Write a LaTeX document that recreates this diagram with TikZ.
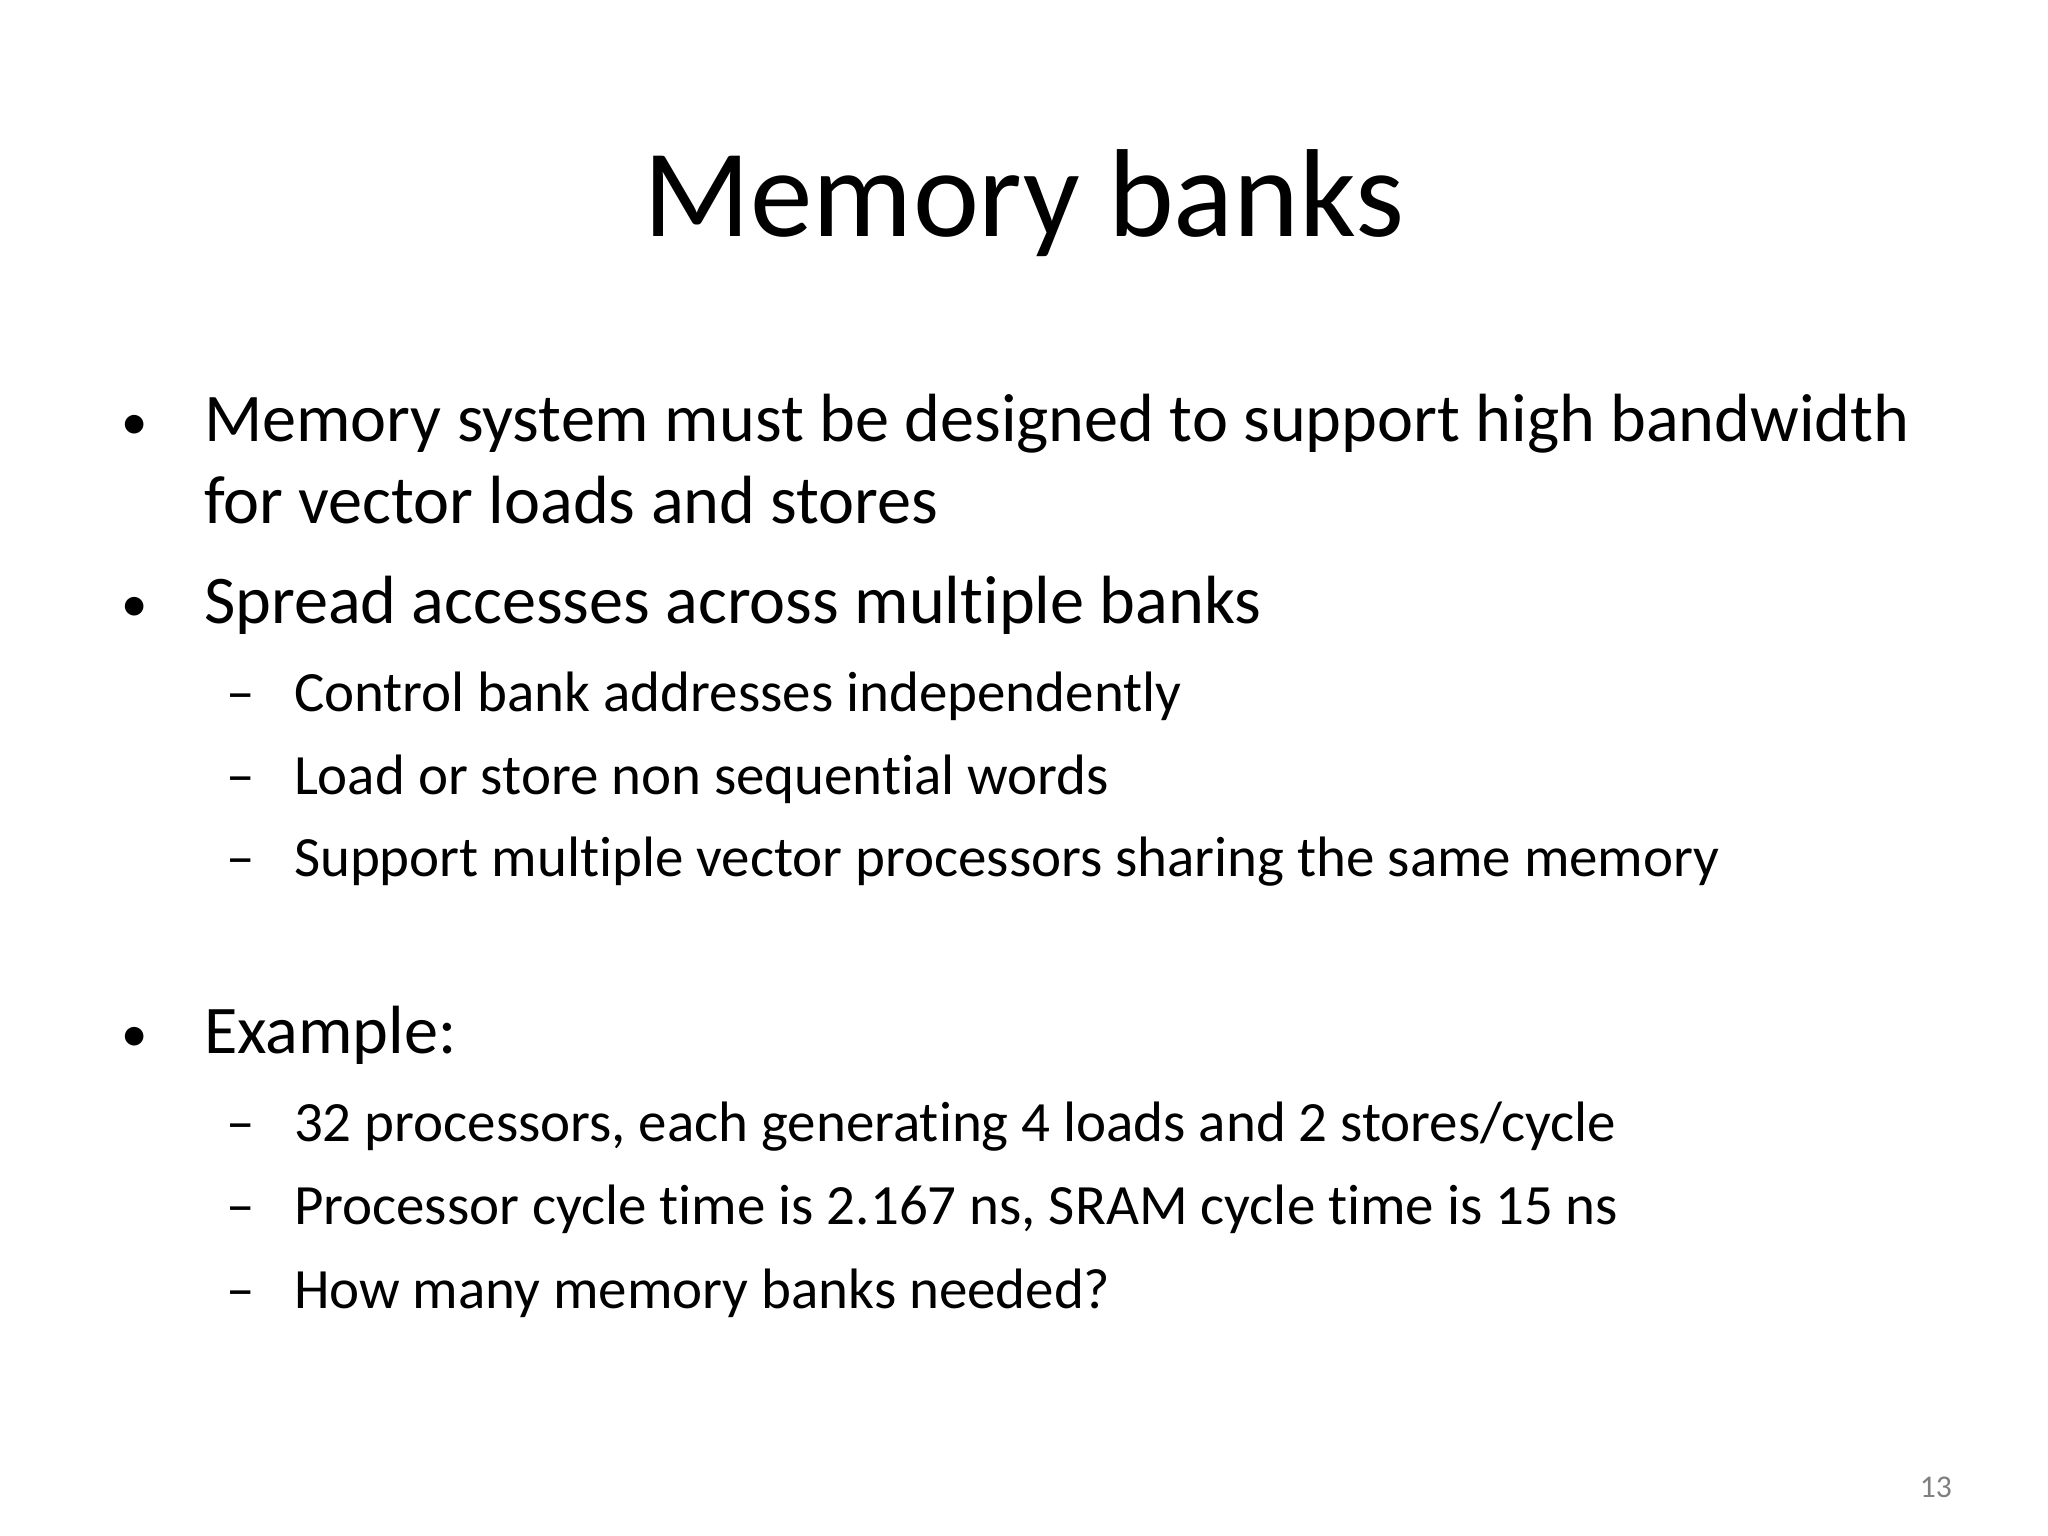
\documentclass[tikz,border=0pt]{standalone}
\usepackage{fontspec}
\setmainfont{Carlito}[Ligatures={NoCommon}]
\begin{document}
\begin{tikzpicture}[x=0.01cm,y=-0.01cm,
  every node/.style={inner sep=0pt,outer sep=0pt},
  title/.style={anchor=base,font=\fontsize{35.6pt}{40pt}\selectfont},
  lone/.style={anchor=base west,font=\fontsize{19.4pt}{23pt}\selectfont},
  ltwo/.style={anchor=base west,font=\fontsize{16.2pt}{19pt}\selectfont},
  bul/.style={anchor=base,font=\fontsize{15pt}{18pt}\selectfont},
  dsh/.style={anchor=base,font=\fontsize{16.2pt}{19pt}\selectfont}]
\useasboundingbox[fill=white] (0,0) rectangle (2048,1536);
\node[title] (t) at (1024,236) {Memory banks};
\node[bul] (b1) at (135,439) {•};
\node[lone] (l1) at (204,441) {Memory system must be designed to support high bandwidth};
\node[lone] (l1b) at (204,523) {for vector loads and stores};
\node[bul] (b2) at (135,621) {•};
\node[lone] (l2) at (204,623) {Spread accesses across multiple banks};
\node[dsh] (d1) at (241,711) {–};
\node[ltwo] (s1) at (294,711) {Control bank addresses independently};
\node[dsh] (d2) at (241,794) {–};
\node[ltwo] (s2) at (294,794) {Load or store non sequential words};
\node[dsh] (d3) at (241,876) {–};
\node[ltwo] (s3) at (294,876) {Support multiple vector processors sharing the same memory};
\node[bul] (b3) at (135,1051) {•};
\node[lone] (l3) at (204,1053) {Example:};
\node[dsh] (d4) at (241,1141) {–};
\node[ltwo] (s4) at (294,1141) {32 processors, each generating 4 loads and 2 stores/cycle};
\node[dsh] (d5) at (241,1224) {–};
\node[ltwo] (s5) at (294,1224) {Processor cycle time is 2.167 ns, SRAM cycle time is 15 ns};
\node[dsh] (d6) at (241,1308) {–};
\node[ltwo] (s6) at (294,1308) {How many memory banks needed?};
\node[anchor=base east,font=\fontsize{9pt}{11pt}\selectfont,text=gray] (pn) at (1952,1497) {13};
\end{tikzpicture}
\end{document}
